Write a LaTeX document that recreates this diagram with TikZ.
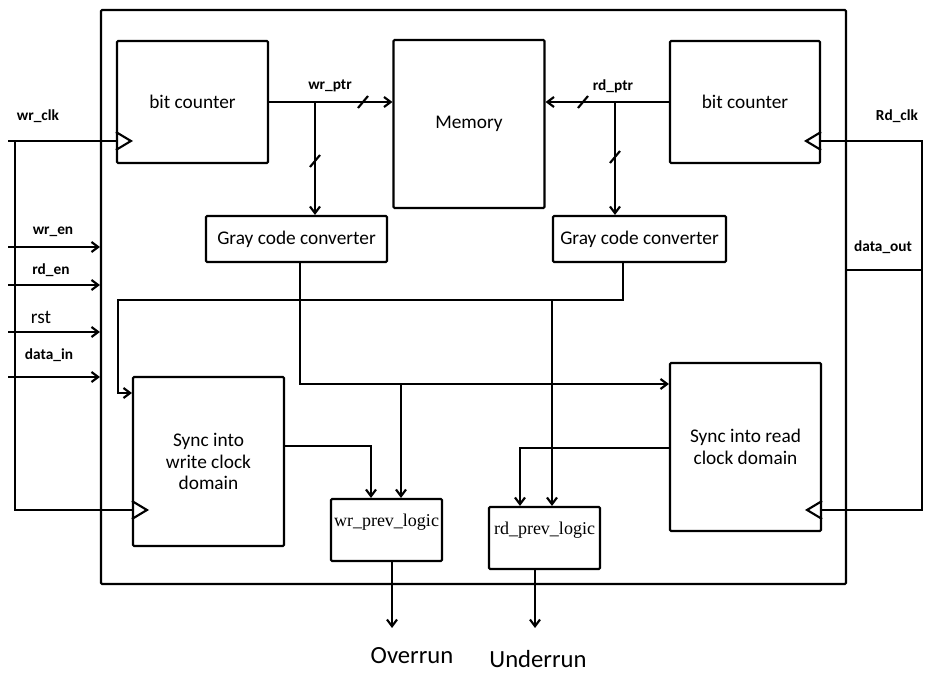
\documentclass[tikz,border=0pt]{standalone}
\usepackage{fontspec}
\setmainfont{Carlito}
\newfontfamily\serifface{Liberation Serif}
\usetikzlibrary{arrows.meta}

\begin{document}
\begin{tikzpicture}[x=0.75pt, y=-0.75pt, line width=1.6pt,
    >={Straight Barb[length=5pt,width=7.5pt]},
    font=\fontsize{14.5}{16}\selectfont]
  \tikzset{block/.style n args={2}{draw, rounded corners=0.8pt, inner sep=0pt,
      minimum width=#1*0.75pt, minimum height=#2*0.75pt, align=center},
    pin/.style={font=\bfseries\fontsize{11.5}{13}\selectfont, inner sep=1pt},
    prev/.style={font=\serifface\fontsize{13.5}{15}\selectfont},
    clkin/.pic={\draw[line join=miter] (0,-9) -- (15,0) -- (0,9);},
    busmark/.pic={\draw (-5,6) -- (5,-6);}}
  \useasboundingbox (0,0) rectangle (926,673);

  % frame and blocks
  \node[block={745}{574}] (fifo) at (473.5,297) {};
  \node[block={151}{122}] (wbc) at (192.5,102) {bit counter};
  \node[block={151}{168}] (mem) at (469,124) {Memory};
  \node[block={150}{122}] (rbc) at (745,102) {bit counter};
  \node[block={181}{46}] (wgray) at (296.5,239) {Gray code converter};
  \node[block={173}{46}] (rgray) at (639.5,239) {Gray code converter};
  \node[block={151}{169}] (wsync) at (208.5,461.5) {Sync into\\write clock\\domain};
  \node[block={151}{168}] (rsync) at (745.5,447) {Sync into read\\clock domain};
  \node[block={111}{62}, prev] (wprev) at (386.5,530) {wr\_prev\_logic\\\phantom{x}};
  \node[block={111}{62}, prev] (rprev) at (544.5,538) {rd\_prev\_logic\\\phantom{x}};

  % pin labels
  \node[pin] (lwrclk) at (38,116) {wr\_clk};
  \node[pin] (lwren) at (53,232) {wr\_en};
  \node[pin] (lrden) at (51,270) {rd\_en};
  \node[inner sep=1pt] (lrst) at (41,317) {rst};
  \node[pin] (ldatain) at (49,355) {data\_in};
  \node[pin] (lwptr) at (330,86) {wr\_ptr};
  \node[pin] (lrptr) at (613,86) {rd\_ptr};
  \node[pin] (lrdclk) at (897,116) {Rd\_clk};
  \node[pin] (ldataout) at (883,247) {data\_out};
  \node[font=\fontsize{18.5}{20}\selectfont] (over) at (412,656) {Overrun};
  \node[font=\fontsize{18.5}{20}\selectfont] (under) at (538,659) {Underrun};

  % inputs on the left
  \draw[->] (8,247) -- (fifo.west |- 0,247);
  \draw[->] (8,285) -- (fifo.west |- 0,285);
  \draw[->] (8,332) -- (fifo.west |- 0,332);
  \draw[->] (8,377) -- (fifo.west |- 0,377);

  % write clock
  \coordinate (wclk) at (8,141);
  \draw (wclk) -- (wbc.west |- wclk);
  \draw (15,141) |- (wsync.west |- 0,510);
  \pic at (wbc.west |- wclk) {clkin};
  \pic at (wsync.west |- 0,510) {clkin};

  % read clock and data out
  \coordinate (rclk) at (922,141);
  \draw (rbc.east |- rclk) -- (rclk) |- (rsync.east |- 0,510);
  \draw (fifo.east |- 0,270) -- (rclk |- 0,270);
  \pic[xscale=-1] at (rbc.east |- rclk) {clkin};
  \pic[xscale=-1] at (rsync.east |- 0,510) {clkin};

  % pointers
  \draw[->] (wbc.east) -- (mem.west |- wbc.east);
  \coordinate (wtap) at (315,102);
  \draw[->] (wtap) -- (wtap |- wgray.north);
  \pic at (363,102) {busmark};
  \pic at (315,161) {busmark};
  \draw[->] (rbc.west) -- (mem.east |- rbc.west);
  \coordinate (rtap) at (615,102);
  \draw[->] (rtap) -- (rtap |- rgray.north);
  \pic at (583,102) {busmark};
  \pic at (615,157) {busmark};

  % crossing gray code paths
  \draw[->] (300,0 |- wgray.south) |- (rsync.west |- 0,384);
  \coordinate (wgtap) at (401,384);
  \draw[->] (wgtap) -- (wgtap |- wprev.north);
  \draw[->] (623,0 |- rgray.south) -- (623,300) -| (118,393) -- (wsync.west |- 0,393);
  \coordinate (rgtap) at (552,300);
  \draw[->] (rgtap) -- (rgtap |- rprev.north);

  % sync outputs
  \draw[->] (wsync.east |- 0,446) -| (371,0 |- wprev.north);
  \draw[->] (rsync.west |- 0,448) -| (520,0 |- rprev.north);

  % flags
  \draw[->] (392,0 |- wprev.south) -- (392,628);
  \draw[->] (535,0 |- rprev.south) -- (535,628);
\end{tikzpicture}
\end{document}
